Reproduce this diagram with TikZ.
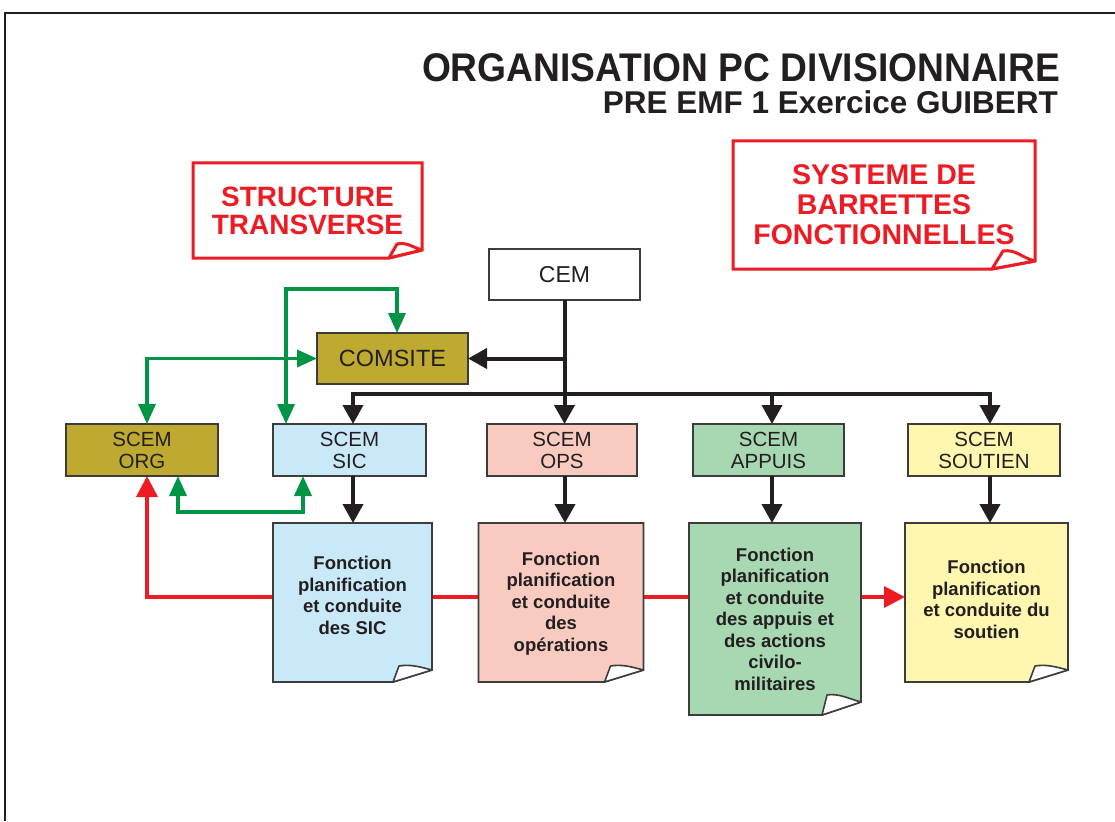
\documentclass[tikz,border=0pt]{standalone}
\usepackage{fontspec}
\setmainfont{Liberation Sans}
\usetikzlibrary{arrows.meta,calc}
\pgfdeclarelayer{bg}
\pgfsetlayers{bg,main}
\definecolor{ink}{RGB}{35,31,32}
\definecolor{edge}{RGB}{60,60,60}
\definecolor{olive}{RGB}{190,170,48}
\definecolor{sicblue}{RGB}{201,233,249}
\definecolor{opspink}{RGB}{249,203,192}
\definecolor{appgreen}{RGB}{168,216,178}
\definecolor{soutyellow}{RGB}{255,247,176}
\definecolor{alert}{RGB}{237,28,36}
\definecolor{linkgreen}{RGB}{0,148,68}
% #1 name, #2 fill, #3 stroke, #4 width, #5 cut x, #6 cut y, #7 flap dx, #8 flap dy
\newcommand\foldbox[8]{%
 \path[fill=#2,draw=#3,line width=#4]
  (#1.north west) -- (#1.north east) -- ($(#1.south east)+(0,-#6)$)
  -- ($(#1.south east)+(-#5,0)$) -- (#1.south west) -- cycle;
 \path[fill=white,draw=#3,line width=#4,line join=round]
  ($(#1.south east)+(-#5,0)$) -- ($(#1.south east)+(-#5+#7,-#8)$)
  .. controls +(0.3*#5,-2) and +(-0.3*#5,-3) .. ($(#1.south east)+(0,-#6)$) -- cycle;
}
\tikzset{
 every node/.style={inner sep=0pt,outer sep=0pt,text=ink},
 plainbox/.style={draw=edge,line width=1.3pt,align=center},
 scem/.style={plainbox,minimum height=52pt,font=\fontsize{20.5}{22}\selectfont},
 fbox/.style={minimum height=159pt},
 ftext/.style={align=center,font=\bfseries\fontsize{18.5}{21.5}\selectfont},
 redbox/.style={align=center,text=alert,font=\bfseries\fontsize{28}{28}\selectfont},
 blackarrow/.style={draw=ink,line width=4pt,-{Triangle[width=20pt,length=19pt]}},
 greenarrows/.style={draw=linkgreen,line width=3.5pt,{Triangle[width=17pt,length=20pt]}-{Triangle[width=17pt,length=20pt]}},
 redarrows/.style={draw=alert,line width=3.5pt,{Triangle[width=21pt,length=21pt]}-{Triangle[width=21pt,length=21pt]}},
}
\begin{document}
\begin{tikzpicture}[x=1pt,y=-1pt]
\useasboundingbox (0,0) rectangle (1115,821);
\draw[draw=ink,line width=2pt] (5,821) -- (5,13) -- (1115,13);

% titles
\node[anchor=base east,font=\bfseries\fontsize{40}{40}\selectfont] (title) at (1060,82)
 {\scalebox{0.93}[1]{ORGANISATION PC DIVISIONNAIRE}};
\node[anchor=base east,font=\bfseries\fontsize{31.5}{32}\selectfont] (subtitle) at (1058,114)
 {PRE EMF 1 Exercice GUIBERT};

% red callouts
\node[redbox,minimum width=229pt,minimum height=95pt] (st) at (307.5,210.5) {STRUCTURE\\TRANSVERSE};
\node[redbox,minimum width=302pt,minimum height=128pt,font=\bfseries\fontsize{28.5}{30}\selectfont] (sb) at (884,205)
 {SYSTEME DE\\BARRETTES\\FONCTIONNELLES};

% top boxes
\node[plainbox,fill=white,minimum width=151pt,minimum height=51pt,font=\fontsize{23}{23}\selectfont] (CEM) at (564.5,274.5) {CEM};
\node[plainbox,fill=olive,minimum width=151pt,minimum height=51pt,font=\fontsize{23.5}{23.5}\selectfont] (COMSITE) at (392.5,358.5) {COMSITE};

% SCEM boxes
\node[scem,fill=olive,minimum width=152pt] (ORG) at (142,450) {SCEM\\ORG};
\node[scem,fill=sicblue,minimum width=153pt] (SIC) at (349.5,450) {SCEM\\SIC};
\node[scem,fill=opspink,minimum width=150pt] (OPS) at (562,450) {SCEM\\OPS};
\node[scem,fill=appgreen,minimum width=151pt] (APPUIS) at (768.5,450) {SCEM\\APPUIS};
\node[scem,fill=soutyellow,minimum width=152pt] (SOUTIEN) at (984,450) {SCEM\\SOUTIEN};

% function boxes
\node[fbox,minimum width=159pt] (fSIC) at (352.5,602.5) {};
\node[fbox,minimum width=165pt] (fOPS) at (561,602.5) {};
\node[minimum width=172pt,minimum height=192pt] (fAPP) at (775,619) {};
\node[fbox,minimum width=163pt] (fSOU) at (986.5,602.5) {};

\node[ftext] (tSIC) at ($(fSIC.center)+(0,-7)$) {Fonction\\planification\\et conduite\\des SIC};
\node[ftext] (tOPS) at ($(fOPS.center)+(0,1)$) {Fonction\\planification\\et conduite\\des\\opérations};
\node[ftext] (tAPP) at (fAPP.center) {Fonction\\planification\\et conduite\\des appuis et\\des actions\\civilo-\\militaires};
\node[ftext] (tSOU) at ($(fSOU.center)+(0,-3)$) {Fonction\\planification\\et conduite du\\soutien};

\begin{pgfonlayer}{bg}
 \draw[redarrows] ([xshift=5pt]ORG.south) |- ([yshift=5.5pt]fSOU.west);
 \foldbox{st}{white}{alert}{3pt}{33}{8}{8}{14}
 \foldbox{sb}{white}{alert}{3pt}{43}{8}{11}{18}
 \foldbox{fSIC}{sicblue}{edge}{1.6pt}{39}{12}{6}{16}
 \foldbox{fOPS}{opspink}{edge}{1.6pt}{39}{12}{6}{16}
 \foldbox{fAPP}{appgreen}{edge}{1.6pt}{39}{13}{5}{20}
 \foldbox{fSOU}{soutyellow}{edge}{1.6pt}{39}{12}{6}{16}
\end{pgfonlayer}

% black hierarchy
\coordinate (bus) at (564.5,394);
\draw[blackarrow] (CEM.south) -- (CEM.south |- OPS.north);
\draw[blackarrow] (CEM.south |- COMSITE.east) -- (COMSITE.east);
\draw[blackarrow] (bus) -| ([xshift=3.5pt]SIC.north);
\draw[blackarrow] (bus) -| ([xshift=3.5pt]APPUIS.north);
\draw[blackarrow] (bus) -| ([xshift=6pt]SOUTIEN.north);
\draw[blackarrow] ([xshift=3.5pt]SIC.south) -- ([xshift=3.5pt]SIC.south |- fSIC.north);
\draw[blackarrow] ([xshift=3pt]OPS.south) -- ([xshift=3pt]OPS.south |- fOPS.north);
\draw[blackarrow] ([xshift=3.5pt]APPUIS.south) -- ([xshift=3.5pt]APPUIS.south |- fAPP.north);
\draw[blackarrow] ([xshift=6pt]SOUTIEN.south) -- ([xshift=6pt]SOUTIEN.south |- fSOU.north);

% green transverse links
\draw[greenarrows] ([xshift=13pt]SIC.north west) -- ++(0,-135) -| ([xshift=4.5pt]COMSITE.north);
\draw[greenarrows] ([xshift=5pt]ORG.north) |- (COMSITE.west);
\draw[greenarrows] ([xshift=-40pt]ORG.south east) -- ++(0,36) -| ([xshift=30pt]SIC.south west);
\end{tikzpicture}
\end{document}
